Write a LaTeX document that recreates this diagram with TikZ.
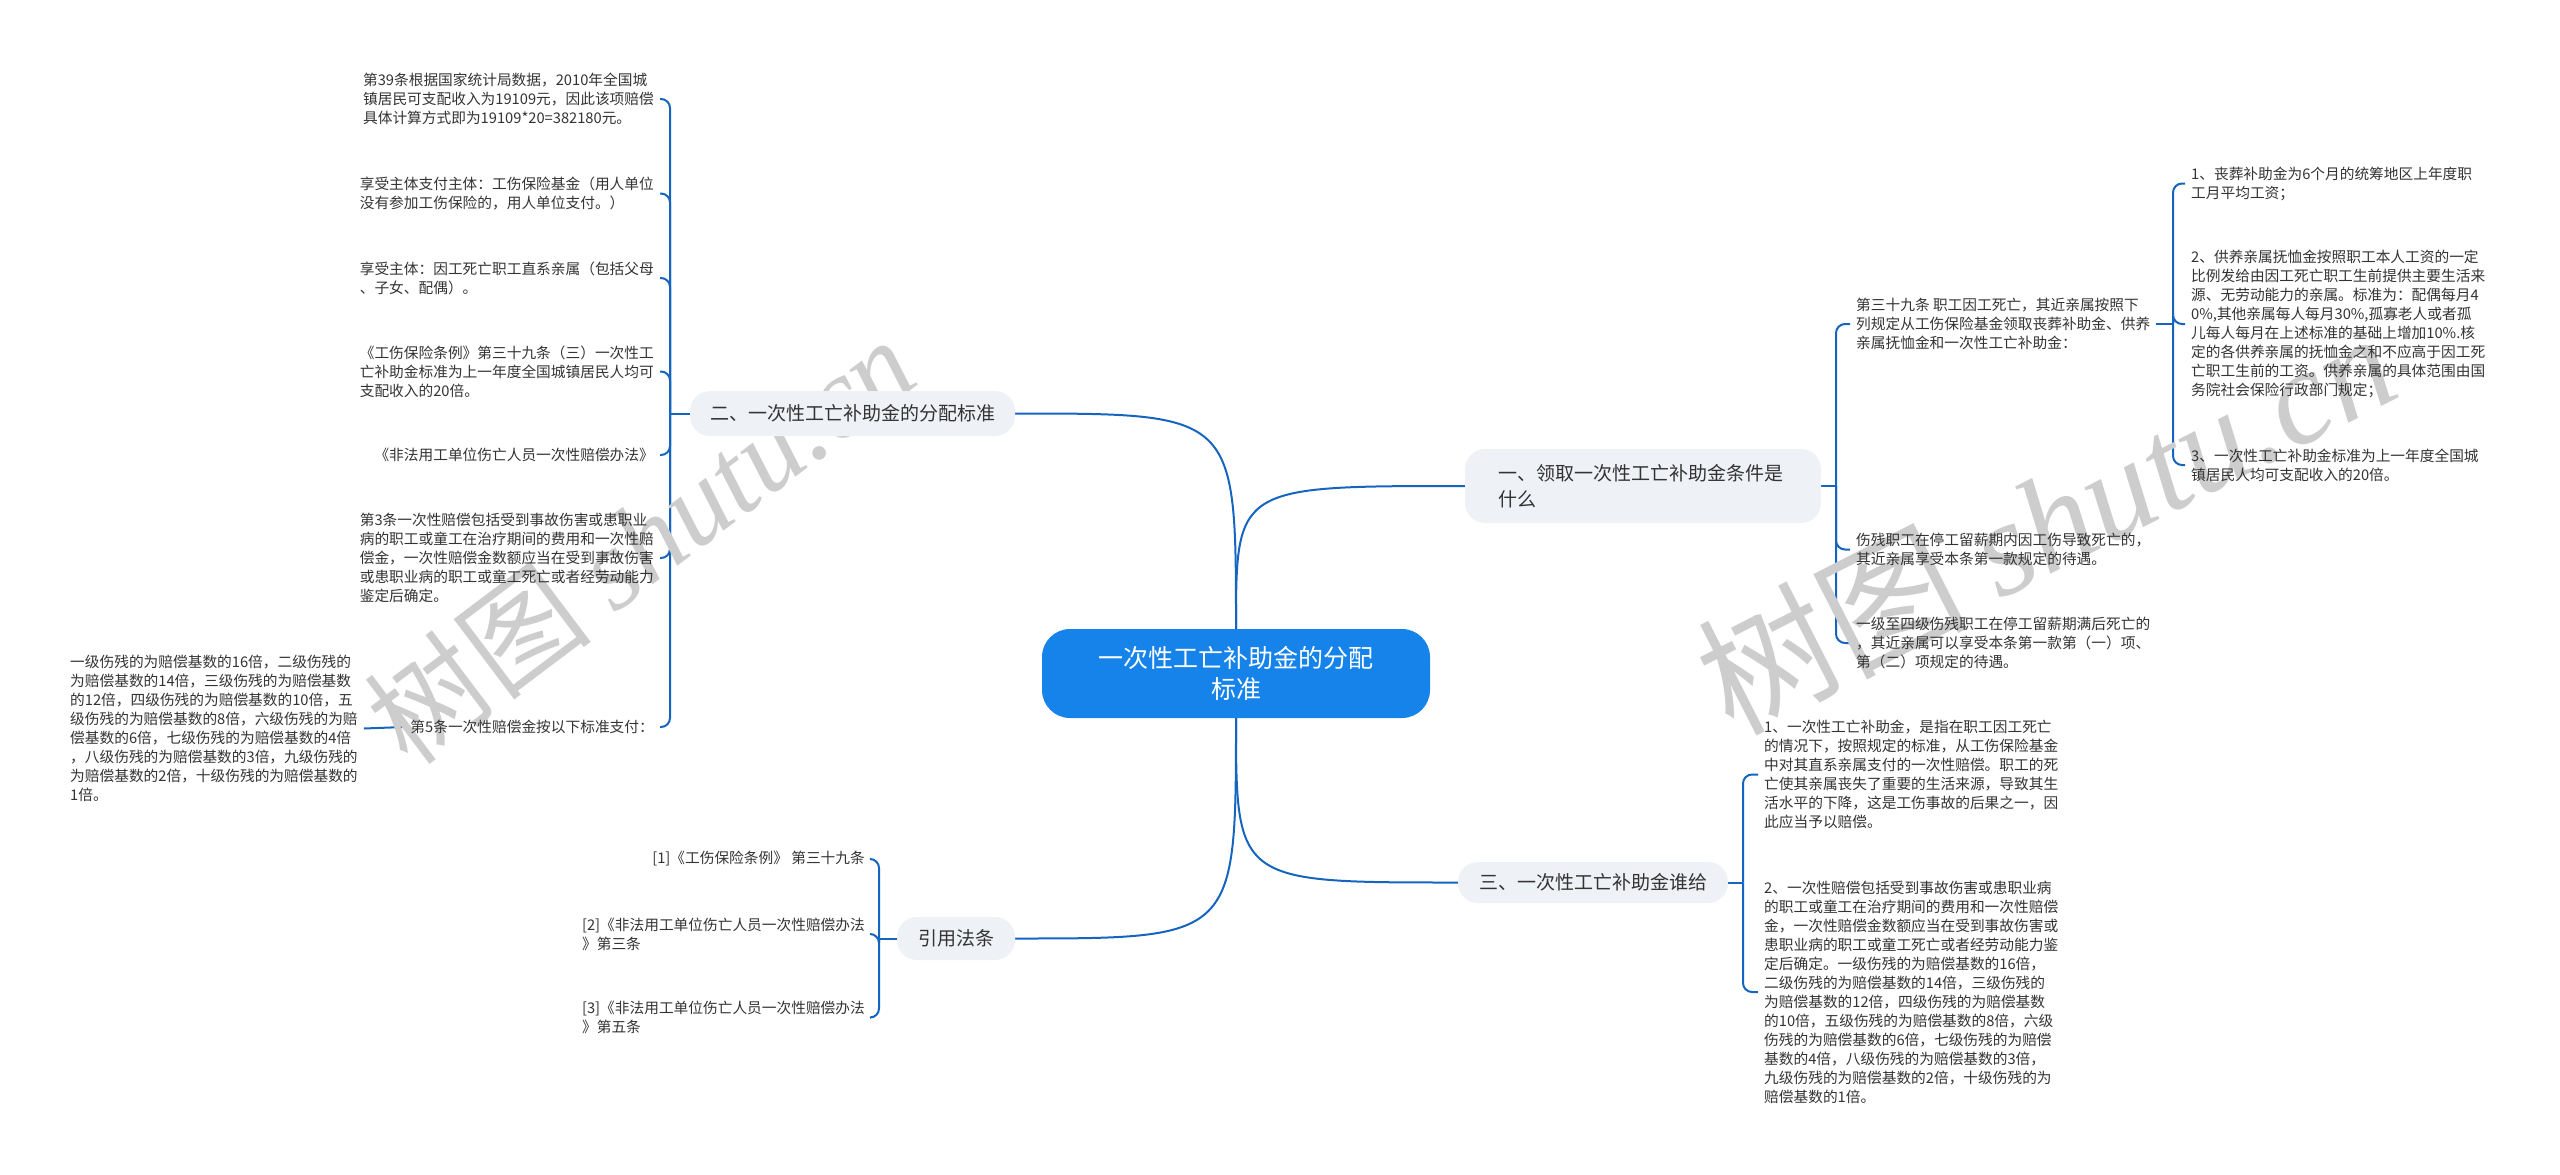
\documentclass[tikz,border=0pt]{standalone}
\usepackage{fontspec}
\setmainfont{Noto Sans CJK SC}
\newfontfamily\wmlatin{Liberation Serif}
\usetikzlibrary{backgrounds}
\definecolor{lineblue}{HTML}{1565C0}
\definecolor{centerblue}{HTML}{1683EA}
\definecolor{branchgray}{HTML}{EEF1F6}
\definecolor{txt}{HTML}{333333}
\definecolor{wm}{HTML}{CDCDCD}
\tikzset{
  conn/.style={draw=lineblue, line width=2pt},
  brk/.style={draw=lineblue, line width=2pt, rounded corners=9pt},
  leaf/.style={inner xsep=6pt, inner ysep=0pt, align=left, text=txt, font=\fontsize{14.7}{19}\selectfont},
  branch/.style={fill=branchgray, rounded corners=20pt, text=txt, font=\fontsize{19}{26}\selectfont, inner sep=0pt, align=center},
  centre/.style={fill=centerblue, rounded corners=28pt, text=white, font=\fontsize{25}{31}\selectfont, inner sep=0pt, align=center, minimum width=388pt, minimum height=89pt},
  wmark/.style={text=wm, inner sep=0pt}
}
\begin{document}
\begin{tikzpicture}[x=1pt,y=-1pt]
\useasboundingbox (0,0) rectangle (2560,1175);
% watermarks
\node[wmark, rotate=37] at (640,540) {\fontsize{115}{115}\selectfont 树图 {\wmlatin\itshape shutu.cn}};
\node[wmark, rotate=27] at (2045,520) {\fontsize{135}{135}\selectfont 树图 {\wmlatin\itshape shutu.cn}};

% main nodes
\node[centre] (c) at (1236,673.5) {一次性工亡补助金的分配\\标准};
\node[branch, minimum width=356pt, minimum height=74pt, text width=290pt, align=left] (b1) at (1643,486) {一、领取一次性工亡补助金条件是\\什么};
\node[branch, minimum width=325pt, minimum height=45pt] (b2) at (852.5,413.5) {二、一次性工亡补助金的分配标准};
\node[branch, minimum width=270pt, minimum height=41pt] (b3) at (1593,882.5) {三、一次性工亡补助金谁给};
\node[branch, minimum width=118pt, minimum height=43pt] (b4) at (956,938.5) {引用法条};

% branch 二 children
\node[leaf, anchor=east] (l1) at (660,99) {第39条根据国家统计局数据，2010年全国城\\镇居民可支配收入为19109元，因此该项赔偿\\具体计算方式即为19109*20=382180元。};
\node[leaf, anchor=east] (l2) at (660,193.5) {享受主体支付主体：工伤保险基金（用人单位\\没有参加工伤保险的，用人单位支付。）};
\node[leaf, anchor=east] (l3) at (660,278) {享受主体：因工死亡职工直系亲属（包括父母\\、子女、配偶）。};
\node[leaf, anchor=east] (l4) at (660,371.5) {《工伤保险条例》第三十九条（三）一次性工\\亡补助金标准为上一年度全国城镇居民人均可\\支配收入的20倍。};
\node[leaf, anchor=east] (l5) at (660,455) {《非法用工单位伤亡人员一次性赔偿办法》};
\node[leaf, anchor=east] (l6) at (660,558) {第3条一次性赔偿包括受到事故伤害或患职业\\病的职工或童工在治疗期间的费用和一次性赔\\偿金，一次性赔偿金数额应当在受到事故伤害\\或患职业病的职工或童工死亡或者经劳动能力\\鉴定后确定。};
\node[leaf, anchor=east] (l7) at (660,727) {第5条一次性赔偿金按以下标准支付：};
\node[leaf, anchor=west] (l8) at (64,728.5) {一级伤残的为赔偿基数的16倍，二级伤残的\\为赔偿基数的14倍，三级伤残的为赔偿基数\\的12倍，四级伤残的为赔偿基数的10倍，五\\级伤残的为赔偿基数的8倍，六级伤残的为赔\\偿基数的6倍，七级伤残的为赔偿基数的4倍\\，八级伤残的为赔偿基数的3倍，九级伤残的\\为赔偿基数的2倍，十级伤残的为赔偿基数的\\1倍。};

% 引用法条 children
\node[leaf, anchor=east] (r1) at (871,859) {[1]《工伤保险条例》 第三十九条};
\node[leaf, anchor=east] (r2) at (871,934) {[2]《非法用工单位伤亡人员一次性赔偿办法\\》第三条};
\node[leaf, anchor=east] (r3) at (871,1017.5) {[3]《非法用工单位伤亡人员一次性赔偿办法\\》第五条};

% branch 一 children
\node[leaf, anchor=west] (a1) at (1850,324) {第三十九条 职工因工死亡，其近亲属按照下\\列规定从工伤保险基金领取丧葬补助金、供养\\亲属抚恤金和一次性工亡补助金：};
\node[leaf, anchor=west] (a2) at (1850,549.5) {伤残职工在停工留薪期内因工伤导致死亡的，\\其近亲属享受本条第一款规定的待遇。};
\node[leaf, anchor=west] (a3) at (1850,643) {一级至四级伤残职工在停工留薪期满后死亡的\\，其近亲属可以享受本条第一款第（一）项、\\第（二）项规定的待遇。};
\node[leaf, anchor=west] (s1) at (2185,183.5) {1、丧葬补助金为6个月的统筹地区上年度职\\工月平均工资；};
\node[leaf, anchor=west] (s2) at (2185,324) {2、供养亲属抚恤金按照职工本人工资的一定\\比例发给由因工死亡职工生前提供主要生活来\\源、无劳动能力的亲属。标准为：配偶每月4\\0\%,其他亲属每人每月30\%,孤寡老人或者孤\\儿每人每月在上述标准的基础上增加10\%.核\\定的各供养亲属的抚恤金之和不应高于因工死\\亡职工生前的工资。供养亲属的具体范围由国\\务院社会保险行政部门规定；};
\node[leaf, anchor=west] (s3) at (2185,465) {3、一次性工亡补助金标准为上一年度全国城\\镇居民人均可支配收入的20倍。};

% branch 三 children
\node[leaf, anchor=west] (t1) at (1758,774.5) {1、一次性工亡补助金，是指在职工因工死亡\\的情况下，按照规定的标准，从工伤保险基金\\中对其直系亲属支付的一次性赔偿。职工的死\\亡使其亲属丧失了重要的生活来源，导致其生\\活水平的下降，这是工伤事故的后果之一，因\\此应当予以赔偿。};
\node[leaf, anchor=west] (t2) at (1758,992) {2、一次性赔偿包括受到事故伤害或患职业病\\的职工或童工在治疗期间的费用和一次性赔偿\\金，一次性赔偿金数额应当在受到事故伤害或\\患职业病的职工或童工死亡或者经劳动能力鉴\\定后确定。一级伤残的为赔偿基数的16倍，\\二级伤残的为赔偿基数的14倍，三级伤残的\\为赔偿基数的12倍，四级伤残的为赔偿基数\\的10倍，五级伤残的为赔偿基数的8倍，六级\\伤残的为赔偿基数的6倍，七级伤残的为赔偿\\基数的4倍，八级伤残的为赔偿基数的3倍，\\九级伤残的为赔偿基数的2倍，十级伤残的为\\赔偿基数的1倍。};

\begin{scope}[on background layer]
% main curves
\draw[conn] (c.north) .. controls (1236,486) .. (b1.west);
\draw[conn] (c.north) .. controls (1236,413.5) .. (b2.east);
\draw[conn] (c.south) .. controls (1236,882.5) .. (b3.west);
\draw[conn] (c.south) .. controls (1236,938.5) .. (b4.east);
% branch 二 brackets
\draw[conn] (b2.west) -- (670,413.5);
\foreach \n in {l1,l2,l3,l4,l5,l6,l7} \draw[brk] (670,413.5) |- (\n.east);
\draw[conn] (l7.west) -- (l8.east);
% 引用
\draw[conn] (b4.west) -- (879,938.5);
\foreach \n in {r1,r2,r3} \draw[brk] (879,938.5) |- (\n.east);
% branch 一
\draw[conn] (b1.east) -- (1836,486);
\foreach \n in {a1,a2,a3} \draw[brk] (1836,486) |- (\n.west);
\draw[conn] (a1.east) -- (2173,324);
\foreach \n in {s1,s2,s3} \draw[brk] (2173,324) |- (\n.west);
% branch 三
\draw[conn] (b3.east) -- (1743,882.5);
\foreach \n in {t1,t2} \draw[brk] (1743,882.5) |- (\n.west);
\end{scope}
\end{tikzpicture}
\end{document}
